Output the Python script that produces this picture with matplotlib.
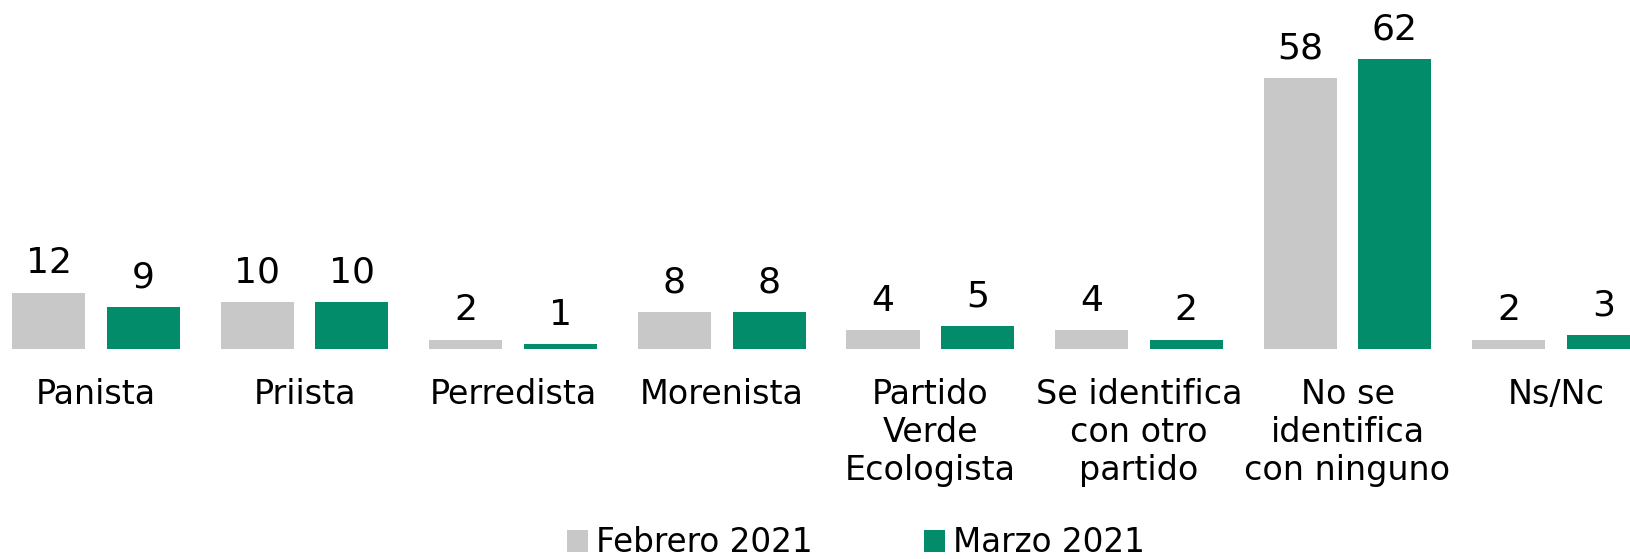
import numpy as np
import matplotlib.pyplot as plt

plt.rcParams['font.family'] = ['DejaVu Sans']

categories = ['Panista', 'Priista', 'Perredista', 'Morenista',
              'Partido\nVerde\nEcologista', 'Se identifica\ncon otro\npartido',
              'No se\nidentifica\ncon ninguno', 'Ns/Nc']
febrero = [12, 10, 2, 8, 4, 4, 58, 2]
marzo = [9, 10, 1, 8, 5, 2, 62, 3]
series_names = ['Febrero 2021', 'Marzo 2021']
colors = ['#C8C8C8', '#038C69']

fig = plt.figure(figsize=(16.3, 5.59), dpi=100)
ax = fig.add_axes([0, 0.3757, 1, 0.6243])

x = np.arange(len(categories))
w = 0.35
off = 0.227
for vals, name, c, sgn in zip([febrero, marzo], series_names, colors, [-1, 1]):
    bars = ax.bar(x + sgn * off, vals, width=w, color=c, label=name)
    for b, v in zip(bars, vals):
        ax.annotate(str(v), (b.get_x() + b.get_width() / 2, v),
                    xytext=(0, 9), textcoords='offset points',
                    ha='center', va='bottom', fontsize=26)

ax.set_xlim(-0.46, 7.354)
ax.set_ylim(0, 74.7)
ax.set_xticks(x)
ax.set_xticklabels(categories, fontsize=24, linespacing=1.18, va='top')
ax.tick_params(axis='x', length=0, pad=21)
ax.set_yticks([])
for s in ax.spines.values():
    s.set_visible(False)

fig.legend(loc='center', bbox_to_anchor=(856 / 1630, 1 - 543 / 559), ncol=2,
           frameon=False, fontsize=23.5, handlelength=0.65, handleheight=0.65,
           handletextpad=0.25, columnspacing=3.4)

fig.savefig('out.png', dpi=100)
